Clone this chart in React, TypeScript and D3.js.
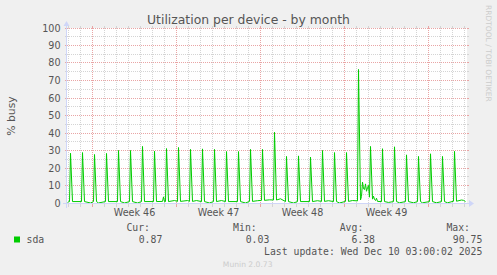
import React from "react";
import * as d3 from "d3";

const W = 497;
const H = 275;

const title = "Utilization per device - by month";
const yAxisLabel = "% busy";
const yMajorTicks = [0, 10, 20, 30, 40, 50, 60, 70, 80, 90, 100];
const yMinorTicks = [5, 15, 25, 35, 45, 55, 65, 75, 85, 95];
const weekLabels = ["Week 46", "Week 47", "Week 48", "Week 49"];
const weekStarts = ["2025-11-09", "2025-11-16", "2025-11-23", "2025-11-30"];
const rangeStart = "2025-11-06T21:00:00Z";
const rangeEnd = "2025-12-10T05:00:00Z";

// daily backup spike (~04:00 UTC) peaks, % busy
const spikeDays = [
  "2025-11-07", "2025-11-08", "2025-11-09", "2025-11-10", "2025-11-11", "2025-11-12",
  "2025-11-13", "2025-11-14", "2025-11-15", "2025-11-16", "2025-11-17", "2025-11-18",
  "2025-11-19", "2025-11-20", "2025-11-21", "2025-11-22", "2025-11-23", "2025-11-24",
  "2025-11-25", "2025-11-26", "2025-11-27", "2025-11-28", "2025-11-29", "2025-11-30",
  "2025-12-01", "2025-12-02", "2025-12-03", "2025-12-04", "2025-12-05", "2025-12-06",
  "2025-12-07", "2025-12-08", "2025-12-09",
];
const spikePeaks = [
  28.7, 29.1, 28.0, 28.6, 30.3, 30.3,
  32.6, 29.9, 31.4, 32.0, 30.9, 31.2,
  30.9, 29.7, 29.7, 30.9, 30.9, 40.7,
  26.9, 27.2, 26.5, 30.3, 29.1, 29.1,
  76.6, 32.6, 31.3, 32.4, 27.8, 26.9,
  28.4, 26.9, 29.8,
];
const dayBase = [
  1.1, 1.1, 1.1, 1.1, 1.1, 1.1,
  1.1, 1.1, 1.1, 1.2, 1.2, 1.1,
  1.1, 1.1, 1.1, 1.2, 1.8, 2.0,
  1.1, 1.1, 1.1, 1.2, 1.1, 1.2,
  1.5, 2.5, 1.1, 1.1, 1.1, 1.1,
  1.1, 1.1, 1.3,
];
// irregular readings between spikes
const extraTimes = [
  "2025-11-06T22:00:00Z", "2025-11-07T00:00:00Z", "2025-11-08T20:00:00Z", "2025-11-09T12:00:00Z",
  "2025-11-11T16:00:00Z", "2025-11-12T18:00:00Z", "2025-11-14T20:00:00Z", "2025-11-14T22:00:00Z",
  "2025-11-15T00:00:00Z", "2025-11-15T20:00:00Z", "2025-11-16T22:00:00Z", "2025-11-17T16:00:00Z",
  "2025-11-18T18:00:00Z", "2025-11-19T18:00:00Z", "2025-11-21T18:00:00Z", "2025-11-22T18:00:00Z",
  "2025-11-23T18:00:00Z", "2025-11-24T16:00:00Z", "2025-11-25T18:00:00Z", "2025-11-27T18:00:00Z",
  "2025-11-28T16:00:00Z", "2025-11-29T14:00:00Z", "2025-11-30T16:00:00Z",
  "2025-12-01T08:00:00Z", "2025-12-01T10:00:00Z", "2025-12-01T12:00:00Z", "2025-12-01T14:00:00Z",
  "2025-12-01T16:00:00Z", "2025-12-01T18:00:00Z", "2025-12-01T20:00:00Z", "2025-12-01T22:00:00Z",
  "2025-12-02T00:00:00Z", "2025-12-02T02:00:00Z", "2025-12-02T10:00:00Z", "2025-12-02T12:00:00Z",
  "2025-12-02T14:00:00Z", "2025-12-02T16:00:00Z", "2025-12-02T18:00:00Z",
  "2025-12-03T16:00:00Z", "2025-12-04T14:00:00Z", "2025-12-05T18:00:00Z", "2025-12-06T12:00:00Z",
  "2025-12-07T16:00:00Z", "2025-12-08T14:00:00Z", "2025-12-09T18:00:00Z", "2025-12-09T22:00:00Z",
  "2025-12-10T02:00:00Z",
];
const extraValues = [
  0.5, 1.0, 0.3, 0.3,
  0.3, 0.3, 1.2, 3.8,
  1.0, 1.7, 1.7, 1.7,
  0.3, 1.7, 0.3, 1.6,
  2.1, 2.7, 0.3, 1.6,
  1.6, 0.3, 1.7,
  2.0, 4.0, 12.2, 8.4,
  8.0, 11.2, 7.0, 9.0,
  10.3, 3.6, 4.2, 2.3,
  1.7, 3.0, 1.2,
  0.6, 0.4, 0.4, 0.4,
  0.4, 0.4, 2.0, 1.8,
  1.1,
];

const legendHeaders = ["Cur:", "Min:", "Avg:", "Max:"];
const legendValues = ["0.87", "0.03", "6.38", "90.75"];
const seriesName = "sda";
const lastUpdate = "Last update: Wed Dec 10 03:00:02 2025";
const footer = "Munin 2.0.73";
const watermark = "RRDTOOL / TOBI OETIKER";

const HOUR = 3600 * 1000;
const DAY = 24 * HOUR;

const X0 = 67;
const X1 = 467;
const Y0 = 203.5;
const Y1 = 28.5;

const SANS = "'DejaVu Sans', sans-serif";
const MONO = "'DejaVu Sans Mono', monospace";
const FONT_COLOR = "#555555";
const AXIS_COLOR = "#CFD6F8";
const GRID_COLOR = "#d4d4d4";
const MGRID_COLOR = "#e9a5a5";
const LINE_COLOR = "#00CC00";

export default function App() {
  const x = d3
    .scaleUtc()
    .domain([new Date(rangeStart), new Date(rangeEnd)])
    .range([X0, X1]);
  const y = d3.scaleLinear().domain([0, 100]).range([Y0, Y1]);

  const snap = (v: number) => Math.floor(v - 0.5) + 0.5;
  const snapX = (v: number) => Math.floor(v) + 0.5;

  // build series
  const pointMap = new Map<number, number>();
  spikeDays.forEach((d, i) => {
    const day = new Date(d + "T00:00:00Z").getTime();
    pointMap.set(day + 2 * HOUR, dayBase[i]);
    pointMap.set(day + 4 * HOUR, spikePeaks[i]);
    pointMap.set(day + 8 * HOUR, dayBase[i]);
  });
  extraTimes.forEach((t, i) => pointMap.set(new Date(t).getTime(), extraValues[i]));
  const points = Array.from(pointMap.entries()).sort((a, b) => a[0] - b[0]);

  const line = d3
    .line<[number, number]>()
    .x((p) => x(new Date(p[0])))
    .y((p) => y(p[1]));
  const path = line(points) || "";

  const [d0, d1] = x.domain();
  const dayTicks = d3.utcDay.range(d0, d1);
  const weekTicks = d3.utcSunday.range(d0, d1);
  const weekSet = new Set(weekTicks.map((d) => d.getTime()));
  const minorDays = dayTicks.filter((d) => !weekSet.has(d.getTime()));

  const gx0 = X0 - 2;
  const gx1 = X1 + 2;
  const gyTop = Y1 - 2.5;
  const gyBot = Y0 + 2;

  const headerRight = [150, 256.7, 363.3, 470];
  const valueRight = [162.3, 269.3, 375, 482.3];

  return (
    <svg
      width={W}
      height={H}
      viewBox={`0 0 ${W} ${H}`}
      style={{ position: "absolute", left: 0, top: 0, display: "block" }}
    >
      <rect x={0} y={0} width={W} height={H} fill="#F0F0F0" />
      <rect x={X0} y={Y1 - 0.5} width={X1 - X0} height={Y0 - Y1 + 0.5} fill="#FFFFFF" />

      {/* minor horizontal grid */}
      <g shapeRendering="crispEdges">
        {yMinorTicks.map((v) => {
          const yy = snap(y(v));
          return (
            <g key={"hm" + v}>
              <line x1={gx0} x2={X0} y1={yy} y2={yy} stroke={GRID_COLOR} />
              <line x1={X1} x2={gx1} y1={yy} y2={yy} stroke={GRID_COLOR} />
              <line x1={gx0} x2={gx1} y1={yy} y2={yy} stroke={GRID_COLOR} strokeDasharray="1,1" />
            </g>
          );
        })}
        {minorDays.map((d) => {
          const xx = snapX(x(d));
          return (
            <g key={"vm" + d.getTime()}>
              <line x1={xx} x2={xx} y1={gyTop} y2={Y1} stroke={GRID_COLOR} />
              <line x1={xx} x2={xx} y1={Y0} y2={gyBot + 1} stroke={GRID_COLOR} />
              <line x1={xx} x2={xx} y1={gyTop} y2={gyBot} stroke={GRID_COLOR} strokeDasharray="1,1" />
            </g>
          );
        })}
        {yMajorTicks.map((v) => {
          const yy = snap(y(v));
          return (
            <g key={"hM" + v}>
              <line x1={gx0} x2={X0} y1={yy} y2={yy} stroke={MGRID_COLOR} />
              <line x1={X1} x2={gx1} y1={yy} y2={yy} stroke={MGRID_COLOR} />
              <line x1={gx0} x2={gx1} y1={yy} y2={yy} stroke={MGRID_COLOR} strokeDasharray="1,1" />
            </g>
          );
        })}
        {weekTicks.map((d) => {
          const xx = snapX(x(d));
          return (
            <g key={"vM" + d.getTime()}>
              <line x1={xx} x2={xx} y1={gyTop} y2={Y1} stroke={MGRID_COLOR} />
              <line x1={xx} x2={xx} y1={Y0} y2={gyBot + 1} stroke={MGRID_COLOR} />
              <line x1={xx} x2={xx} y1={gyTop} y2={gyBot} stroke={MGRID_COLOR} strokeDasharray="1,1" />
            </g>
          );
        })}
      </g>

      {/* data */}
      <path d={path} fill="none" stroke={LINE_COLOR} strokeWidth={1} strokeLinejoin="miter" />

      {/* axes */}
      <g shapeRendering="crispEdges">
        <line x1={X0 - 4} x2={X1 + 4} y1={Y0} y2={Y0} stroke={AXIS_COLOR} />
        <line x1={X0 - 0.5} x2={X0 - 0.5} y1={Y0 + 4} y2={Y1 - 4} stroke={AXIS_COLOR} />
      </g>
      <polygon
        points={`${X1 + 2},${Y0 - 3.5} ${X1 + 2},${Y0 + 3.5} ${X1 + 7},${Y0}`}
        fill={AXIS_COLOR}
      />
      <polygon
        points={`${X0 - 3.5},${Y1 - 2.5} ${X0 + 2.5},${Y1 - 2.5} ${X0 - 0.5},${Y1 - 7.5}`}
        fill={AXIS_COLOR}
      />

      {/* y tick labels */}
      {yMajorTicks.map((v) => (
        <text
          key={"yl" + v}
          x={60.5}
          y={snap(y(v)) + 3.6}
          textAnchor="end"
          fontFamily={SANS}
          fontSize={9.6}
          fill={FONT_COLOR}
        >
          {v}
        </text>
      ))}

      {/* x labels */}
      {weekLabels.map((lab, i) => {
        const t = new Date(weekStarts[i] + "T00:00:00Z").getTime() + 3.5 * DAY;
        return (
          <text
            key={lab}
            x={x(new Date(t))}
            y={216}
            textAnchor="middle"
            fontFamily={SANS}
            fontSize={9.6}
            fill={FONT_COLOR}
          >
            {lab}
          </text>
        );
      })}

      {/* title */}
      <text
        x={248.5}
        y={23.5}
        textAnchor="middle"
        fontFamily={SANS}
        fontSize={12.4}
        fill={FONT_COLOR}
      >
        {title}
      </text>

      {/* y axis label */}
      <text
        transform={`translate(14.5, ${(Y0 + Y1) / 2}) rotate(-90)`}
        textAnchor="middle"
        fontFamily={SANS}
        fontSize={10.8}
        fill={FONT_COLOR}
      >
        {yAxisLabel}
      </text>

      {/* watermark */}
      <text
        transform={`translate(485.5, 5) rotate(90)`}
        textAnchor="start"
        fontFamily={SANS}
        fontSize={7.5}
        fill="#cccccc"
      >
        {watermark}
      </text>

      {/* legend */}
      {legendHeaders.map((h, i) => (
        <text
          key={h}
          x={headerRight[i]}
          y={231}
          textAnchor="end"
          fontFamily={MONO}
          fontSize={9.8}
          fill={FONT_COLOR}
        >
          {h}
        </text>
      ))}
      <rect x={14} y={236.5} width={6} height={6} fill={LINE_COLOR} />
      <text x={26.5} y={243} fontFamily={MONO} fontSize={9.8} fill={FONT_COLOR}>
        {seriesName}
      </text>
      {legendValues.map((v, i) => (
        <text
          key={"lv" + i}
          x={valueRight[i]}
          y={243}
          textAnchor="end"
          fontFamily={MONO}
          fontSize={9.8}
          fill={FONT_COLOR}
        >
          {v}
        </text>
      ))}
      <text
        x={482.3}
        y={254.8}
        textAnchor="end"
        fontFamily={MONO}
        fontSize={9.8}
        fill={FONT_COLOR}
      >
        {lastUpdate}
      </text>
      <text
        x={247.7}
        y={267}
        textAnchor="middle"
        fontFamily={SANS}
        fontSize={7.6}
        fill="#cccccc"
      >
        {footer}
      </text>
    </svg>
  );
}
